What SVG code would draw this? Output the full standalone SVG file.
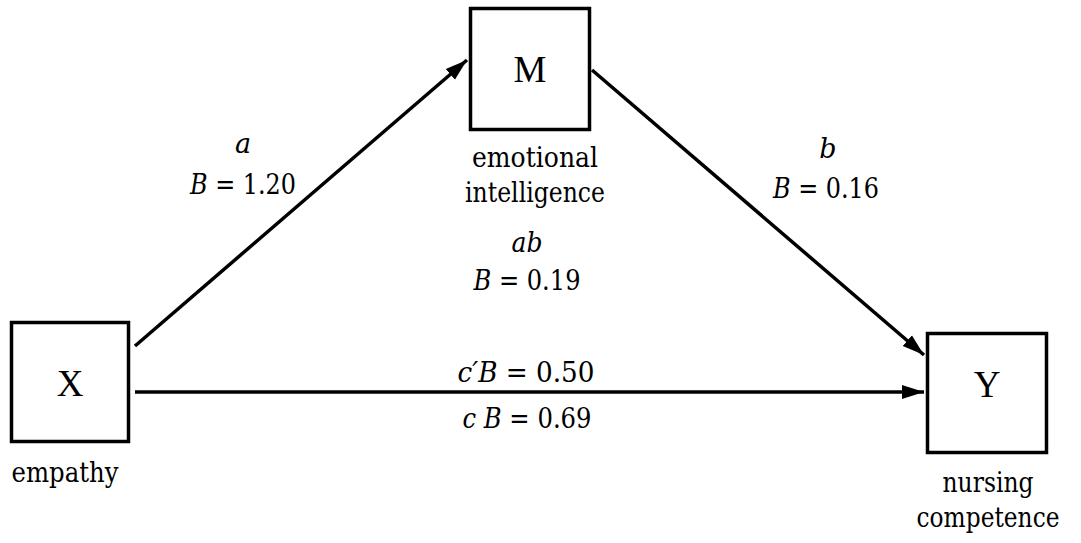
<svg xmlns="http://www.w3.org/2000/svg" width="1081" height="543" viewBox="0 0 1081 543">
<style>
.box{fill:#fff;stroke:#000;stroke-width:3.5}
text{fill:#000;text-anchor:middle}
.big{font-size:37px;font-family:"Liberation Serif",serif}
.lbl{font-size:27px;font-family:"DejaVu Serif","Liberation Serif",serif}
.i{font-style:italic}
.conn{stroke:#000;stroke-width:3.5;fill:none}
</style>
<defs>
<marker id="ah" markerUnits="userSpaceOnUse" markerWidth="24" markerHeight="18" viewBox="0 0 24 18" refX="22" refY="9" orient="auto">
<path d="M0,2 L22,9 L0,16 Z" fill="#000"/>
</marker>
</defs>
<rect width="1081" height="543" fill="#fff"/>
<g id="connectors">
<line class="conn" x1="135" y1="346" x2="467" y2="60" marker-end="url(#ah)"/>
<line class="conn" x1="592" y1="70" x2="924" y2="355" marker-end="url(#ah)"/>
<line class="conn" x1="135" y1="392" x2="924" y2="392" marker-end="url(#ah)"/>
</g>
<g id="node-X">
<rect class="box" x="11.5" y="322.5" width="117" height="119"/>
<text class="big" x="70" y="396">X</text>
<text class="lbl" x="65" y="482" textLength="107" lengthAdjust="spacingAndGlyphs">empathy</text>
</g>
<g id="node-M">
<rect class="box" x="470.5" y="8.5" width="119" height="121"/>
<text class="big" x="530" y="82">M</text>
<text class="lbl" x="535" y="167" textLength="126" lengthAdjust="spacingAndGlyphs">emotional</text>
<text class="lbl" x="535" y="202" textLength="140" lengthAdjust="spacingAndGlyphs">intelligence</text>
</g>
<g id="node-Y">
<rect class="box" x="927.5" y="333.5" width="119" height="119"/>
<text class="big" x="987" y="397">Y</text>
<text class="lbl" x="988" y="492" textLength="91" lengthAdjust="spacingAndGlyphs">nursing</text>
<text class="lbl" x="988" y="527" textLength="143" lengthAdjust="spacingAndGlyphs">competence</text>
</g>
<g id="labels">
<text class="lbl i" x="243" y="153">a</text>
<text class="lbl" x="243" y="194" textLength="106" lengthAdjust="spacingAndGlyphs"><tspan class="i">B</tspan> = 1.20</text>
<text class="lbl i" x="828" y="158">b</text>
<text class="lbl" x="826" y="198" textLength="106" lengthAdjust="spacingAndGlyphs"><tspan class="i">B</tspan> = 0.16</text>
<text class="lbl i" x="527" y="252" textLength="31" lengthAdjust="spacingAndGlyphs">ab</text>
<text class="lbl" x="527" y="290" textLength="107" lengthAdjust="spacingAndGlyphs"><tspan class="i">B</tspan> = 0.19</text>
<text class="lbl" x="526" y="382" textLength="137" lengthAdjust="spacingAndGlyphs"><tspan class="i">c′B</tspan> = 0.50</text>
<text class="lbl" x="527" y="428" textLength="129" lengthAdjust="spacingAndGlyphs"><tspan class="i">c</tspan> <tspan class="i">B</tspan> = 0.69</text>
</g>
</svg>
